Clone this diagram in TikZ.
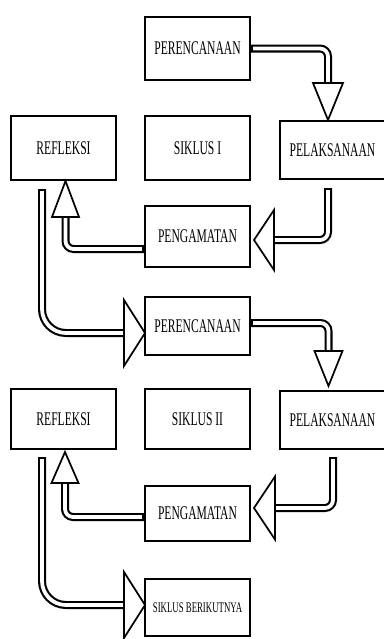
\documentclass[tikz,border=0pt]{standalone}
\usepackage{fontspec}
\usepackage{tikz}
\usetikzlibrary{calc}
\newfontfamily\boxfont[FakeStretch=0.6]{Liberation Serif}
\tikzstyle{box} = [draw, line width=1.5pt, minimum width=78.75pt, inner sep=0pt, font=\boxfont\fontsize{14.5}{16}\selectfont]
\tikzstyle{shaft} = [draw, line width=6pt, rounded corners=6pt, postaction={draw=white, line width=2.8pt, shorten <=1.6pt}]
\tikzstyle{head} = [draw, line width=1.3pt, fill=white, line join=miter]

\begin{document}
\begin{tikzpicture}[x=0.75pt, y=-0.75pt]
\useasboundingbox (0,0) rectangle (384,639);

\def\colL{63.5}
\def\colM{197.5}
\def\colR{332.5}

\node[box, minimum height=47.25pt] (plan1) at (\colM, 48.5) {PERENCANAAN};
\node[box, minimum height=48pt] (refl1) at (\colL, 148) {REFLEKSI};
\node[box, minimum height=48pt] (cyc1) at (\colM, 148) {SIKLUS I};
\node[box, minimum height=43.5pt] (act1) at (\colR, 150) {PELAKSANAAN};
\node[box, minimum height=45.75pt] (obs1) at (\colM, 236.5) {PENGAMATAN};

\node[box, minimum height=43.5pt] (plan2) at (\colM, 326) {PERENCANAAN};
\node[box, minimum height=45pt] (refl2) at (\colL, 419) {REFLEKSI};
\node[box, minimum height=45pt] (cyc2) at (\colM, 419) {SIKLUS II};
\node[box, minimum height=43.5pt] (act2) at (\colR, 420) {PELAKSANAAN};
\node[box, minimum height=41.25pt] (obs2) at (\colM, 513.5) {PENGAMATAN};
\node[box, minimum height=42.75pt, font=\boxfont\fontsize{11}{13}\selectfont] (next) at (\colM, 607.5) {SIKLUS BERIKUTNYA};

\coordinate (t1) at ($(act1.north)+(-4.5,0)$);
\draw[shaft] (plan1.east) -| ($(t1)+(0,-37)$);
\draw[head] ($(t1)+(-15,-37)$) -- (t1) -- ($(t1)+(15,-37)$) -- cycle;

\coordinate (s2) at ($(act1.south)+(-4.5,8)$);
\coordinate (t2) at ($(obs1.east)+(3,3.5)$);
\draw[shaft] (s2) |- ($(t2)+(20,0)$);
\draw[head] ($(t2)+(20,-30)$) -- (t2) -- ($(t2)+(20,30)$) -- cycle;

\coordinate (t3) at ($(refl1.south)+(2,0)$);
\draw[shaft] ($(obs1.west)+(0,12.5)$) -| ($(t3)+(0,36)$);
\draw[head] ($(t3)+(-13.5,36)$) -- (t3) -- ($(t3)+(13.5,36)$) -- cycle;

\coordinate (s4) at ($(refl1.south)+(-21.5,8)$);
\coordinate (t4) at ($(plan2.west)+(1,7)$);
\draw[shaft, rounded corners=18pt] (s4) |- ($(t4)+(-21,0)$);
\draw[head] ($(t4)+(-21,-33)$) -- (t4) -- ($(t4)+(-21,33)$) -- cycle;

\coordinate (t5) at ($(act2.north)+(-4,-4)$);
\draw[shaft] ($(plan2.east)+(0,-3)$) -| ($(t5)+(0,-35)$);
\draw[head] ($(t5)+(-14,-35)$) -- (t5) -- ($(t5)+(14,-35)$) -- cycle;

\coordinate (s6) at ($(act2.south)+(0.5,7)$);
\coordinate (t6) at ($(obs2.east)+(3,-5.5)$);
\draw[shaft] (s6) |- ($(t6)+(21,0)$);
\draw[head] ($(t6)+(21,-31.5)$) -- (t6) -- ($(t6)+(21,31.5)$) -- cycle;

\coordinate (t7) at ($(refl2.south)+(1.5,2)$);
\draw[shaft] ($(obs2.west)+(0,3.5)$) -| ($(t7)+(0,31)$);
\draw[head] ($(t7)+(-13.5,31)$) -- (t7) -- ($(t7)+(13.5,31)$) -- cycle;

\coordinate (s8) at ($(refl2.south)+(-21.5,7)$);
\coordinate (t8) at ($(next.west)+(1,-2.5)$);
\draw[shaft, rounded corners=18pt] (s8) |- ($(t8)+(-21,0)$);
\draw[head] ($(t8)+(-21,-33)$) -- (t8) -- ($(t8)+(-21,33)$) -- cycle;

\end{tikzpicture}
\end{document}
